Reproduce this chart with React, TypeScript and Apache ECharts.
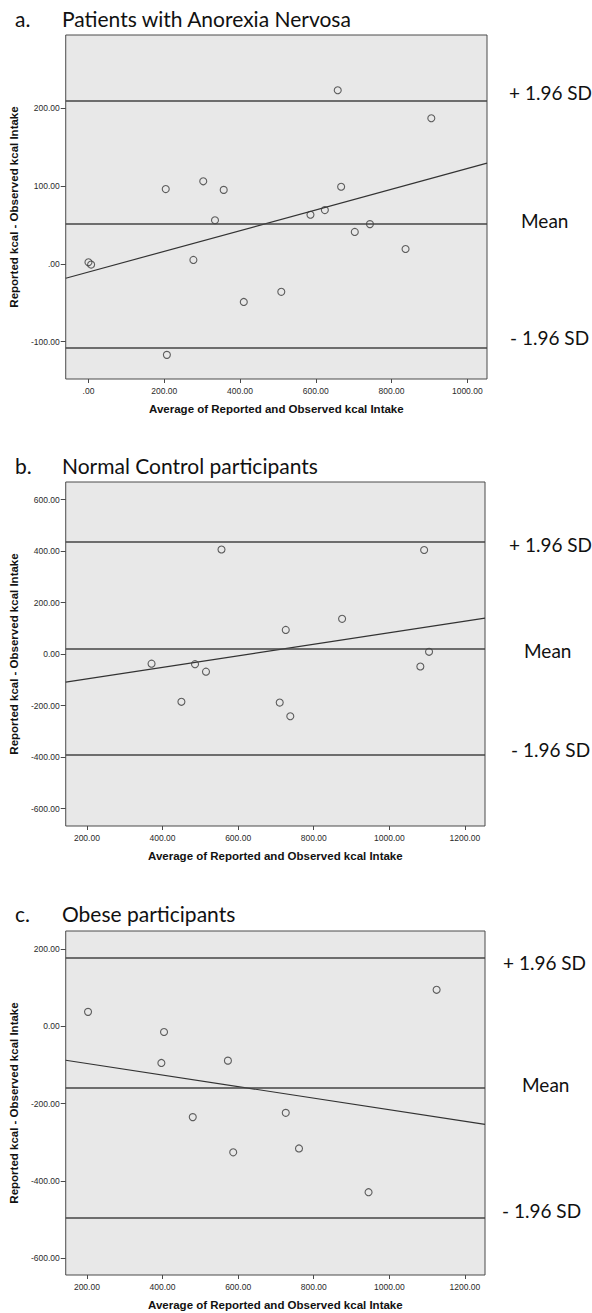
import React, { useEffect, useRef } from "react";
import * as echarts from "echarts";

// ---------- Data ----------
// Panel a: Patients with Anorexia Nervosa
const aX = [658, 905, 0, 7, 204, 303, 357, 334, 277, 586, 624, 667, 703, 743, 837, 410, 509, 207];
const aY = [223, 187, 2, -1, 96, 106, 95, 56, 5, 63, 69, 99, 41, 51, 19, -49, -36, -117];
const aLimits = [210, 51, -108]; // +1.96 SD, Mean, -1.96 SD
const aFitX = [-60, 1052];
const aFitY = [-18.6, 129.4];
const aXRange = [-60, 1052];
const aYRange = [-148, 294];
const aXTicks = [0, 200, 400, 600, 800, 1000];
const aXTickLabels = [".00", "200.00", "400.00", "600.00", "800.00", "1000.00"];
const aYTicks = [-100, 0, 100, 200];
const aYTickLabels = ["-100.00", ".00", "100.00", "200.00"];

// Panel b: Normal Control participants
const bX = [556, 1092, 726, 875, 371, 486, 515, 450, 710, 738, 1082, 1105];
const bY = [406, 404, 94, 137, -37, -39, -68, -185, -188, -241, -48, 9];
const bLimits = [435, 21, -392];
const bFitX = [144, 1253];
const bFitY = [-109, 140];
const bXRange = [144, 1253];
const bYRange = [-667, 668];
const bXTicks = [200, 400, 600, 800, 1000, 1200];
const bXTickLabels = ["200.00", "400.00", "600.00", "800.00", "1000.00", "1200.00"];
const bYTicks = [-600, -400, -200, 0, 200, 400, 600];
const bYTickLabels = ["-600.00", "-400.00", "-200.00", "0.00", "200.00", "400.00", "600.00"];

// Panel c: Obese participants
const cX = [203, 404, 397, 480, 573, 1125, 726, 587, 761, 945];
const cY = [37, -15, -95, -235, -89, 94, -224, -326, -316, -429];
const cLimits = [177, -160, -496];
const cFitX = [144, 1253];
const cFitY = [-88, -253.5];
const cXRange = [144, 1253];
const cYRange = [-643, 246];
const cXTicks = [200, 400, 600, 800, 1000, 1200];
const cXTickLabels = ["200.00", "400.00", "600.00", "800.00", "1000.00", "1200.00"];
const cYTicks = [-600, -400, -200, 0, 200];
const cYTickLabels = ["-600.00", "-400.00", "-200.00", "0.00", "200.00"];

const limitNames = ["+ 1.96 SD", "Mean", "- 1.96 SD"];
const panelLetters = ["a.", "b.", "c."];
const panelTitles = ["Patients with Anorexia Nervosa", "Normal Control participants", "Obese participants"];
const xAxisTitle = "Average of Reported and Observed kcal Intake";
const yAxisTitle = "Reported kcal - Observed kcal Intake";

// ---------- Layout / style ----------
const grids = [
  { left: 63, top: 35, width: 424, height: 344 },
  { left: 63, top: 482, width: 422, height: 344 },
  { left: 63, top: 931, width: 422, height: 344 },
];
const titleY = [18, 465, 913];
// side-label placement per panel: [left x, vertical shift from its line]
const labelPlacement = [
  [[509, -8], [521, -4], [510, -10]],
  [[509, 2], [524, 2], [511, -6]],
  [[503, 5], [522, -4], [502, -8]],
];

const panels = [
  { xs: aX, ys: aY, lim: aLimits, fx: aFitX, fy: aFitY, xr: aXRange, yr: aYRange, xt: aXTicks, xtl: aXTickLabels, yt: aYTicks, ytl: aYTickLabels },
  { xs: bX, ys: bY, lim: bLimits, fx: bFitX, fy: bFitY, xr: bXRange, yr: bYRange, xt: bXTicks, xtl: bXTickLabels, yt: bYTicks, ytl: bYTickLabels },
  { xs: cX, ys: cY, lim: cLimits, fx: cFitX, fy: cFitY, xr: cXRange, yr: cYRange, xt: cXTicks, xtl: cXTickLabels, yt: cYTicks, ytl: cYTickLabels },
];

const tickFont = { fontFamily: "Liberation Sans, Arial, sans-serif", fontSize: 8.5, color: "#2a2a2a" };
const nameFont = { fontFamily: "Liberation Sans, Arial, sans-serif", fontSize: 11.5, fontWeight: "bold", color: "#111" };
const sideFont = "19px Lato, 'Open Sans', sans-serif";
const titleFont = "21px Lato, 'Open Sans', sans-serif";

function buildOption() {
  const xAxis: any[] = [];
  const yAxis: any[] = [];
  const series: any[] = [];
  const grid: any[] = [];
  const graphic: any[] = [];

  panels.forEach((p, i) => {
    grid.push({
      ...grids[i],
      show: true,
      backgroundColor: "#e8e8e8",
      borderColor: "#4a4a4a",
      borderWidth: 1,
    });
    xAxis.push({
      type: "value",
      gridIndex: i,
      min: p.xr[0],
      max: p.xr[1],
      name: xAxisTitle,
      nameLocation: "middle",
      nameGap: 24,
      nameTextStyle: nameFont,
      axisLine: { show: false, onZero: false },
      splitLine: { show: false },
      axisTick: { show: true, length: 4, lineStyle: { color: "#4a4a4a" }, customValues: p.xt },
      axisLabel: {
        ...tickFont,
        margin: 7,
        customValues: p.xt,
        formatter: (v: number) => p.xtl[p.xt.indexOf(v)] ?? "",
      },
    });
    yAxis.push({
      type: "value",
      gridIndex: i,
      min: p.yr[0],
      max: p.yr[1],
      name: yAxisTitle,
      nameLocation: "middle",
      nameGap: 42,
      nameTextStyle: nameFont,
      axisLine: { show: false, onZero: false },
      splitLine: { show: false },
      axisTick: { show: true, length: 5, lineStyle: { color: "#4a4a4a" }, customValues: p.yt },
      axisLabel: {
        ...tickFont,
        margin: 6,
        customValues: p.yt,
        formatter: (v: number) => p.ytl[p.yt.indexOf(v)] ?? "",
      },
    });

    series.push({
      type: "line",
      xAxisIndex: i,
      yAxisIndex: i,
      data: p.fx.map((x, k) => [x, p.fy[k]]),
      symbol: "none",
      silent: true,
      lineStyle: { color: "#333", width: 1.2 },
      z: 3,
    });

    series.push({
      type: "scatter",
      xAxisIndex: i,
      yAxisIndex: i,
      data: p.xs.map((x, k) => [x, p.ys[k]]),
      symbol: "circle",
      symbolSize: 7,
      itemStyle: { color: "rgba(0,0,0,0)", borderColor: "#3a3a3a", borderWidth: 1.1 },
      z: 4,
      markLine: {
        silent: true,
        symbol: "none",
        animation: false,
        label: { show: false },
        lineStyle: { color: "#444", width: 1.6, type: "solid" },
        data: p.lim.map((v) => ({ yAxis: v })),
      },
    });

    graphic.push({
      type: "text",
      x: 15,
      y: titleY[i],
      style: { text: panelLetters[i], font: titleFont, fill: "#111", verticalAlign: "middle" },
    });
    graphic.push({
      type: "text",
      x: 62,
      y: titleY[i],
      style: { text: panelTitles[i], font: titleFont, fill: "#111", verticalAlign: "middle" },
    });
  });

  return {
    animation: false,
    backgroundColor: "#ffffff",
    grid,
    xAxis,
    yAxis,
    series,
    graphic,
  };
}

export default function App() {
  const ref = useRef<HTMLDivElement>(null);
  useEffect(() => {
    if (!ref.current) return;
    const chart = echarts.init(ref.current, undefined, { renderer: "svg" });
    const option: any = buildOption();
    chart.setOption(option);
    // side labels anchored to each limit line through the axis scale
    const sideLabels: any[] = [];
    panels.forEach((p, i) => {
      p.lim.forEach((v, k) => {
        const pt = chart.convertToPixel({ gridIndex: i } as any, [p.xr[1], v]) as number[];
        const [lx, shift] = labelPlacement[i][k];
        sideLabels.push({
          type: "text",
          x: lx,
          y: pt[1] + shift,
          style: { text: limitNames[k], font: sideFont, fill: "#111", verticalAlign: "middle" },
        });
      });
    });
    chart.setOption({ graphic: [...option.graphic, ...sideLabels] });
    return () => chart.dispose();
  }, []);
  return (
    <div
      ref={ref}
      style={{ position: "absolute", left: 0, top: 0, width: 592, height: 1313, background: "#fff" }}
    />
  );
}
